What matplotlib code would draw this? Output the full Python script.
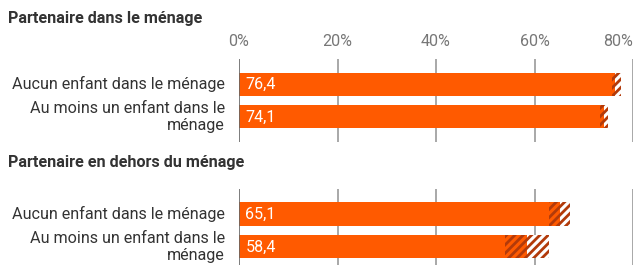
import matplotlib
matplotlib.use("Agg")
import matplotlib.pyplot as plt

plt.rcParams['font.family'] = ['Roboto', 'DejaVu Sans']
plt.rcParams['hatch.linewidth'] = 2.0

# data
groups = ["Partenaire dans le ménage", "Partenaire en dehors du ménage"]
categories = ["Aucun enfant dans le ménage", "Au moins un enfant dans le\nménage"]
values = [[76.4, 74.1], [65.1, 58.4]]
ci_low = [[75.7, 73.4], [63.0, 54.0]]
ci_high = [[77.5, 74.9], [67.3, 62.9]]
ticks = [0, 20, 40, 60, 80]
tick_labels = ["0%", "20%", "40%", "60%", "80%"]

ORANGE = "#FF5A00"
DARK = "#B23A0A"
W, H = 634, 265
FS = 11.6

fig = plt.figure(figsize=(W / 100, H / 100), dpi=100)

# pixel boxes for each panel: (top, bottom) and y-limits
panels = [(59, 142, (1.76, -0.76)), (189, 265, (1.55, -0.76))]
title_y = [18, 163]
x0, x1 = 239, 633

for g, (top, bot, ylim) in enumerate(panels):
    ax = fig.add_axes([x0 / W, (H - bot) / H, (x1 - x0) / W, (bot - top) / H])
    ax.set_xlim(0, 80)
    ax.set_ylim(*ylim)
    for s in ax.spines.values():
        s.set_visible(False)
    ax.set_xticks([])
    ax.set_yticks([])

    for t in ticks[1:]:
        ax.axvline(t, color="#9a9a9a", lw=1.2, zorder=0)
    ax.axvline(0, color="#666666", lw=1.2, zorder=3)

    ys = list(range(len(categories)))
    ax.barh(ys, ci_low[g], height=0.7, color=ORANGE, lw=0, zorder=2)
    low_w = [v - l for v, l in zip(values[g], ci_low[g])]
    ax.barh(ys, low_w, left=ci_low[g], height=0.7, facecolor=ORANGE,
            edgecolor=DARK, hatch="////", lw=0, zorder=2)
    high_w = [h - v for v, h in zip(values[g], ci_high[g])]
    ax.barh(ys, high_w, left=values[g], height=0.7, facecolor="white",
            edgecolor=DARK, hatch="////", lw=0, zorder=2)

    for y, v, lab in zip(ys, values[g], categories):
        ax.text(1.3, y, f"{v:.1f}".replace(".", ","), color="white",
                fontsize=FS, va="center", ha="left", zorder=4)
        ax.text(-14 * 80 / (x1 - x0), y, lab, color="#333333",
                fontsize=FS, va="center", ha="right", linespacing=1.1)

    if g == 0:
        for t, tl in zip(ticks, tick_labels):
            ha = "right" if t == ticks[-1] else "center"
            ax.text(t, 1 + 17 / (bot - top), tl, color="#777777", fontsize=FS,
                    ha=ha, va="center", transform=ax.get_xaxis_transform())

    fig.text(8 / W, 1 - title_y[g] / H, groups[g], fontsize=FS,
             fontweight="bold", color="#333333", va="center", ha="left")

fig.savefig("out.png", dpi=100)
